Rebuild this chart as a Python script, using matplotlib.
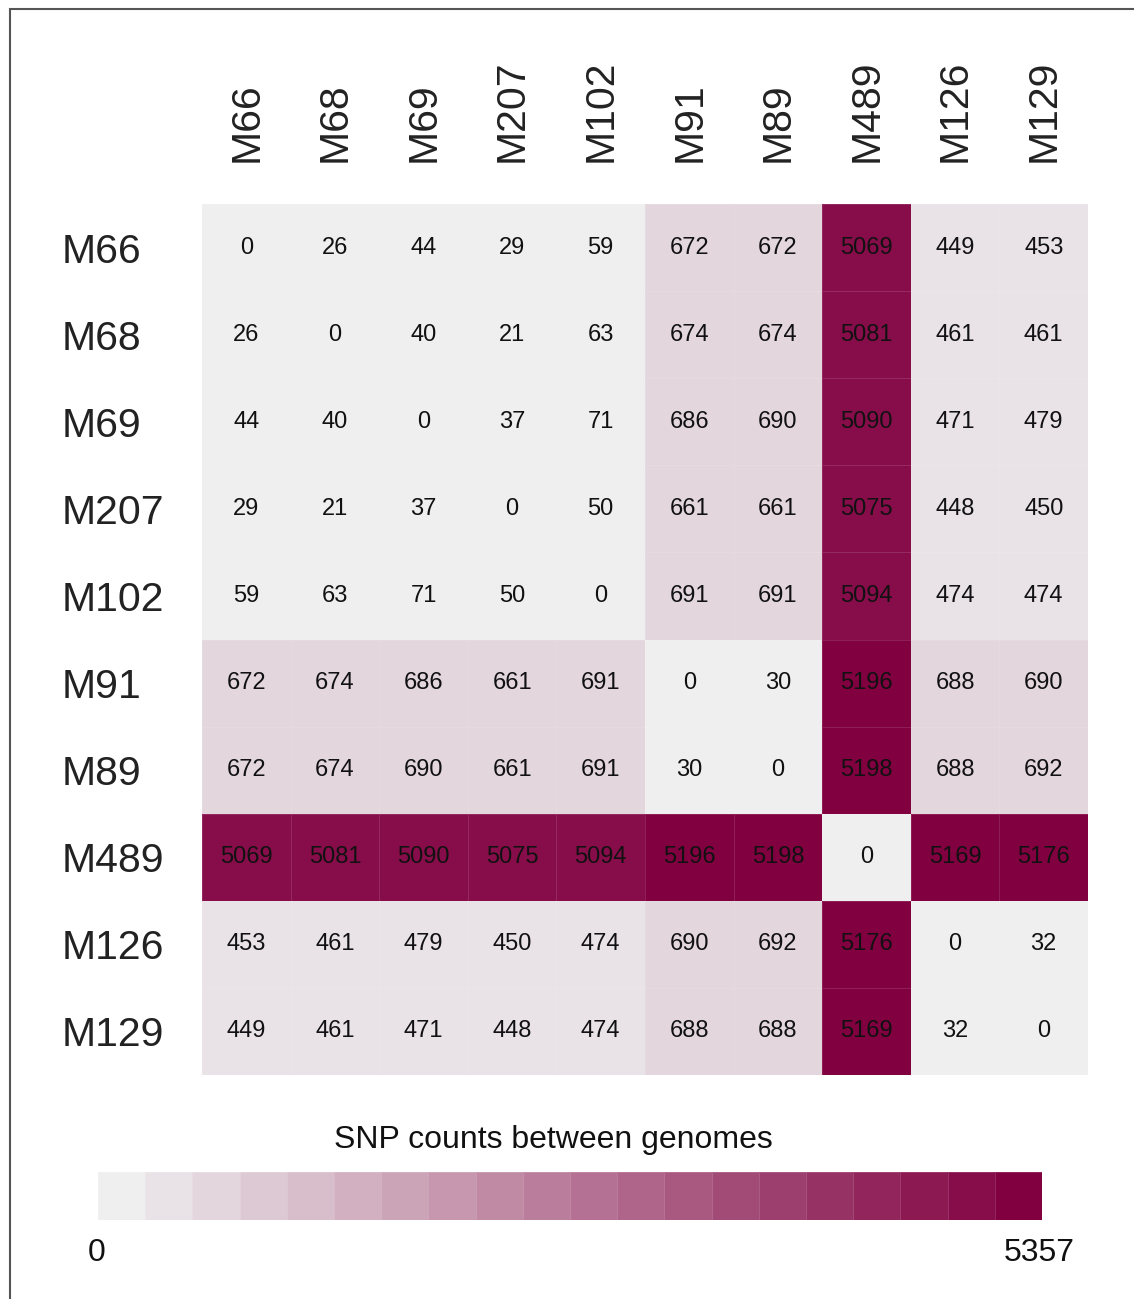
import numpy as np
import matplotlib
matplotlib.use('Agg')
import matplotlib.pyplot as plt
from matplotlib.colors import LinearSegmentedColormap, BoundaryNorm
from matplotlib.patches import Rectangle

plt.rcParams['font.family'] = ['Liberation Sans', 'DejaVu Sans']

# genome labels (same order for rows and columns)
genomes = ['M66', 'M68', 'M69', 'M207', 'M102', 'M91', 'M89', 'M489', 'M126', 'M129']

# SNP counts, row by row as printed
row_M66 = [0, 26, 44, 29, 59, 672, 672, 5069, 449, 453]
row_M68 = [26, 0, 40, 21, 63, 674, 674, 5081, 461, 461]
row_M69 = [44, 40, 0, 37, 71, 686, 690, 5090, 471, 479]
row_M207 = [29, 21, 37, 0, 50, 661, 661, 5075, 448, 450]
row_M102 = [59, 63, 71, 50, 0, 691, 691, 5094, 474, 474]
row_M91 = [672, 674, 686, 661, 691, 0, 30, 5196, 688, 690]
row_M89 = [672, 674, 690, 661, 691, 30, 0, 5198, 688, 692]
row_M489 = [5069, 5081, 5090, 5075, 5094, 5196, 5198, 0, 5169, 5176]
row_M126 = [453, 461, 479, 450, 474, 690, 692, 5176, 0, 32]
row_M129 = [449, 461, 471, 448, 474, 688, 688, 5169, 32, 0]

vmin = 0
vmax = 5357
n_steps = 20
legend_title = 'SNP counts between genomes'

snp = np.array([row_M66, row_M68, row_M69, row_M207, row_M102,
                row_M91, row_M89, row_M489, row_M126, row_M129])

W, H = 1134, 1299
fig = plt.figure(figsize=(W / 100, H / 100), dpi=100)

# outer frame, cut off at right and bottom like the reference
fig.patches.append(Rectangle((10 / W, -0.05), 1.1, 1 - 9 / H + 0.05,
                             transform=fig.transFigure, fill=False,
                             edgecolor='#555555', linewidth=1.5))

cmap = LinearSegmentedColormap.from_list('snp', ['#efefef', '#800040'], N=n_steps)
# colour steps in the cells split a bit above the printed max
bounds = np.linspace(vmin, vmax * 1.008, n_steps + 1)
norm = BoundaryNorm(bounds, cmap.N)

ax = fig.add_axes([202 / W, 1 - 1075 / H, 886 / W, 871 / H])
ax.pcolormesh(snp, cmap=cmap, norm=norm, edgecolors=(1, 1, 1, 0.12), linewidth=0.6)
ax.set_xlim(0, len(genomes))
ax.set_ylim(len(genomes), 0)
for s in ax.spines.values():
    s.set_visible(False)

for i in range(len(genomes)):
    for j in range(len(genomes)):
        ax.text(j + 0.5, i + 0.5, str(snp[i, j]), ha='center', va='center',
                fontsize=17, color='#111111')

centers = np.arange(len(genomes)) + 0.5
ax.xaxis.tick_top()
ax.set_xticks(centers)
ax.set_xticklabels(genomes, rotation=90, fontsize=29.5, color='#222222', va='bottom')
ax.set_yticks(centers)
ax.set_yticklabels(genomes, fontsize=29.5, color='#222222', ha='left')
ax.tick_params(axis='x', length=0, pad=30)
ax.tick_params(axis='y', length=0, pad=101)

# stepped colour legend
cax = fig.add_axes([98 / W, 1 - 1220 / H, 944 / W, 48 / H])
cax.pcolormesh(bounds, [0, 1], (bounds[:-1] + bounds[1:])[None, :] / 2,
               cmap=cmap, norm=norm, edgecolors=(1, 1, 1, 0.15), linewidth=0.5)
cax.set_xlim(bounds[0], bounds[-1])
cax.set_axis_off()

fig.text(553 / W, 1 - 1140 / H, legend_title, ha='center', va='center',
         fontsize=23, color='#111111')
fig.text(97 / W, 1 - 1253 / H, str(vmin), ha='center', va='center',
         fontsize=23, color='#111111')
fig.text(1075 / W, 1 - 1253 / H, str(vmax), ha='right', va='center',
         fontsize=23, color='#111111')

fig.savefig('out.png', dpi=100, facecolor='white')
